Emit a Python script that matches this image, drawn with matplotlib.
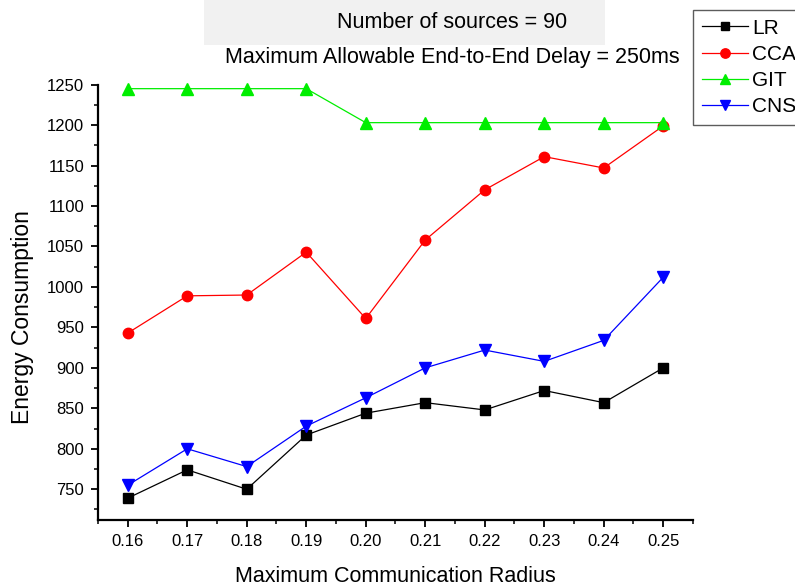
import matplotlib
matplotlib.use("Agg")
import matplotlib.pyplot as plt
from matplotlib.patches import Rectangle
from matplotlib.ticker import MultipleLocator, FormatStrFormatter

plt.rcParams['font.family'] = ['Liberation Sans', 'DejaVu Sans']

radius = [0.16, 0.17, 0.18, 0.19, 0.20, 0.21, 0.22, 0.23, 0.24, 0.25]
lr = [739, 774, 750, 817, 844, 857, 848, 872, 857, 900]
cca = [943, 989, 990, 1043, 961, 1058, 1120, 1161, 1147, 1199]
git = [1245, 1245, 1245, 1245, 1203, 1203, 1203, 1203, 1203, 1203]
cns = [755, 800, 778, 828, 863, 900, 922, 908, 934, 1012]

series = [
    ("LR", lr, "black", "s", 6.5),
    ("CCA", cca, "red", "o", 7.5),
    ("GIT", git, "#00ee00", "^", 8),
    ("CNS", cns, "blue", "v", 8),
]

W, H = 795, 587
AX_L, AX_R, AX_T, AX_B = 98, 693, 83, 520
fig = plt.figure(figsize=(W / 100, H / 100), dpi=100)

# faint shaded band behind the first title line
fig.patches.append(Rectangle((204 / W, 1 - 45 / H), 401 / W, 45 / H,
                             transform=fig.transFigure, facecolor="#f1f1f1",
                             edgecolor="none", zorder=0))

ax = fig.add_axes([AX_L / W, 1 - AX_B / H, (AX_R - AX_L) / W, (AX_B - AX_T) / H])
ax.set_facecolor("none")

handles = []
for name, vals, col, mk, ms in series:
    h, = ax.plot(radius, vals, color=col, marker=mk, markersize=ms,
                 linewidth=0.9, label=name, clip_on=False)
    handles.append(h)

ax.set_xlim(0.155, 0.255)
ax.set_ylim(712, 1252)
ax.xaxis.set_major_locator(MultipleLocator(0.01))
ax.xaxis.set_minor_locator(MultipleLocator(0.005))
ax.xaxis.set_major_formatter(FormatStrFormatter('%.2f'))
ax.yaxis.set_major_locator(MultipleLocator(50))
ax.yaxis.set_minor_locator(MultipleLocator(25))

for s in ("top", "right"):
    ax.spines[s].set_visible(False)
for s in ("left", "bottom"):
    ax.spines[s].set_linewidth(1.6)
ax.spines["left"].set_bounds(712, 1250)

ax.tick_params(which="major", direction="out", length=5, width=1.3,
               labelsize=12, pad=5)
ax.tick_params(which="minor", direction="out", length=3, width=1.1)

ax.set_xlabel("Maximum Communication Radius", fontsize=15.5, labelpad=12)
ax.set_ylabel("Energy Consumption", fontsize=16.5)
# y label centred at x = 22 px, y = 317 px of the figure
ax.yaxis.set_label_coords((22 - AX_L) / (AX_R - AX_L),
                          (AX_B - 317) / (AX_B - AX_T))
ax.yaxis.label.set_verticalalignment("center")

fig.text(452 / W, 1 - 22 / H, "Number of sources = 90", ha="center",
         va="center", fontsize=15.5)
fig.text(452 / W, 1 - 57 / H, "Maximum Allowable End-to-End Delay = 250ms",
         ha="center", va="center", fontsize=15.5)

leg = fig.legend(handles=handles, loc="upper left",
                 bbox_to_anchor=(693 / W, 1 - 10 / H), fontsize=15,
                 frameon=True, fancybox=False, edgecolor="#333333",
                 handlelength=2.2, handletextpad=0.2, labelspacing=0.34,
                 borderpad=0.42, borderaxespad=0, markerscale=0.9)
leg.get_frame().set_linewidth(1.0)

fig.savefig("out.png", dpi=100)
